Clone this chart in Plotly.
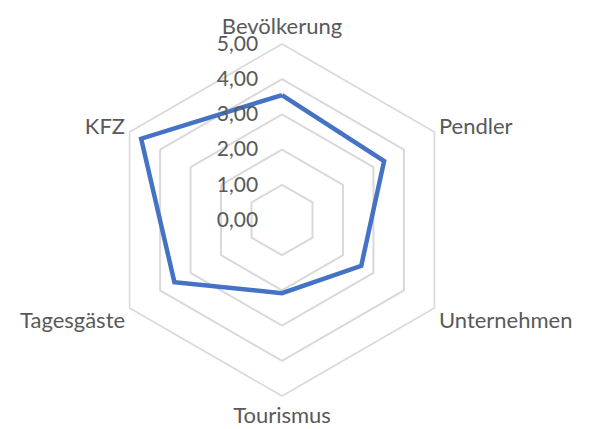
import plotly.graph_objects as go

categories = ["Bevölkerung", "Pendler", "Unternehmen", "Tourismus", "Tagesgäste", "KFZ"]
values = [3.55, 3.35, 2.6, 2.08, 3.53, 4.62]
tick_vals = [0, 1, 2, 3, 4, 5]

theta = categories + categories[:1]
r = values + values[:1]

fig = go.Figure()
fig.add_trace(go.Scatterpolar(
    r=r, theta=theta, mode="lines",
    line=dict(color="#4472C4", width=4.5),
    hoverinfo="skip", showlegend=False,
))

W, H = 582, 421
cx, cy, R = 274, 212, 176
fig.update_layout(
    width=W, height=H,
    margin=dict(l=0, r=0, t=0, b=0),
    paper_bgcolor="white",
    separators=",.",
    font=dict(family="Lato, Open Sans, sans-serif", size=22, color="#595959"),
    polar=dict(
        domain=dict(x=[(cx - R) / W, (cx + R) / W],
                    y=[(H - cy - R) / H, (H - cy + R) / H]),
        bgcolor="white",
        gridshape="linear",
        radialaxis=dict(
            range=[0, 5], tickvals=tick_vals, tickformat=".2f",
            angle=90, side="counterclockwise", tickangle=90,
            showline=False, ticks="outside", ticklen=16, tickcolor="rgba(0,0,0,0)",
            showgrid=True, gridcolor="#D9D9D9", gridwidth=1.6,
            tickfont=dict(size=21, color="#595959"),
        ),
        angularaxis=dict(
            direction="clockwise", rotation=90,
            showgrid=False, showline=True, linecolor="#D9D9D9", linewidth=1.6,
            ticks="",
            tickfont=dict(size=22, color="#595959"),
        ),
    ),
)

fig.write_html("out.html")
